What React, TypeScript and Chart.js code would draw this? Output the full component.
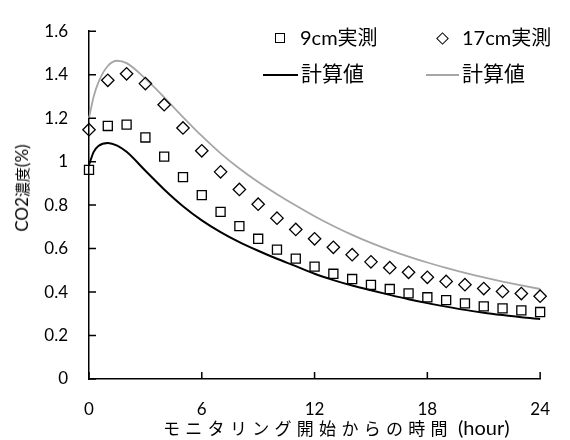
import React, { useEffect, useRef } from "react";
import { Chart, registerables } from "chart.js";

Chart.register(...registerables);

// ---- data ----
const measuredHours = [0, 1, 2, 3, 4, 5, 6, 7, 8, 9, 10, 11, 12, 13, 14, 15, 16, 17, 18, 19, 20, 21, 22, 23, 24];
const measured9cm = [0.962, 1.164, 1.17, 1.111, 1.023, 0.929, 0.846, 0.769, 0.703, 0.645, 0.595, 0.554, 0.517, 0.484, 0.46, 0.433, 0.414, 0.394, 0.376, 0.363, 0.348, 0.334, 0.325, 0.316, 0.308];
const measured17cm = [1.147, 1.374, 1.404, 1.359, 1.262, 1.155, 1.05, 0.953, 0.872, 0.804, 0.74, 0.688, 0.645, 0.606, 0.572, 0.539, 0.512, 0.491, 0.468, 0.449, 0.434, 0.416, 0.403, 0.393, 0.381];

const calcHours = [0, 0.25, 0.5, 1, 1.5, 2, 3, 4, 5, 6, 7, 8, 9, 10, 11, 12, 13, 14, 15, 16, 17, 18, 19, 20, 21, 22, 23, 24];
const calc9cm = [0.985, 1.045, 1.072, 1.086, 1.074, 1.045, 0.958, 0.872, 0.795, 0.73, 0.676, 0.63, 0.59, 0.553, 0.519, 0.484, 0.455, 0.43, 0.408, 0.387, 0.367, 0.349, 0.333, 0.318, 0.305, 0.294, 0.284, 0.276];
const calc17cm = [1.2, 1.3, 1.365, 1.44, 1.464, 1.453, 1.382, 1.296, 1.205, 1.118, 1.038, 0.968, 0.906, 0.85, 0.798, 0.749, 0.704, 0.663, 0.626, 0.593, 0.563, 0.536, 0.511, 0.488, 0.467, 0.448, 0.431, 0.414];

const xTickValues = [0, 6, 12, 18, 24];
const yMin = 0;
const yMax = 1.6;
const yStep = 0.2;

const seriesLabels = ["9cm実測", "17cm実測", "計算値", "計算値"];
const xTitleJa = "モニタリング開始からの時間";
const xTitleUnit = " (hour)";
const yTitleLead = "CO2";
const yTitleJa = "濃度";
const yTitleUnit = "(%)";

const FONT = "Lato, 'Noto Sans CJK JP', sans-serif";
const JA_FONT = "'Noto Sans CJK JP', sans-serif";

const insideTicks = {
  id: "insideTicks",
  afterDatasetsDraw(chart: any) {
    const { ctx, chartArea, scales } = chart;
    ctx.save();
    ctx.strokeStyle = "#000";
    ctx.lineWidth = 1.5;
    ctx.beginPath();
    scales.y.ticks.forEach((t: any) => {
      const y = scales.y.getPixelForValue(t.value);
      ctx.moveTo(chartArea.left, y);
      ctx.lineTo(chartArea.left + 7, y);
    });
    scales.x.ticks.forEach((t: any) => {
      const x = scales.x.getPixelForValue(t.value);
      ctx.moveTo(x, chartArea.bottom);
      ctx.lineTo(x, chartArea.bottom - 7);
    });
    ctx.stroke();
    ctx.restore();
  },
};

export default function App() {
  const canvasRef = useRef<HTMLCanvasElement | null>(null);

  useEffect(() => {
    const canvas = canvasRef.current;
    if (!canvas) return;
    const chart = new Chart(canvas, {
      type: "line",
      data: {
        datasets: [
          {
            label: seriesLabels[0],
            data: measuredHours.map((h, i) => ({ x: h, y: measured9cm[i] })),
            showLine: false,
            pointStyle: "rect",
            pointRadius: 6.4,
            pointBorderWidth: 1.3,
            pointBorderColor: "#000",
            pointBackgroundColor: "rgba(0,0,0,0)",
            borderColor: "#000",
            backgroundColor: "rgba(0,0,0,0)",
            clip: false,
          },
          {
            label: seriesLabels[1],
            data: measuredHours.map((h, i) => ({ x: h, y: measured17cm[i] })),
            showLine: false,
            pointStyle: "rectRot",
            pointRadius: 6.2,
            pointBorderWidth: 1.3,
            pointBorderColor: "#000",
            pointBackgroundColor: "rgba(0,0,0,0)",
            borderColor: "#000",
            backgroundColor: "rgba(0,0,0,0)",
            clip: false,
          },
          {
            label: seriesLabels[2],
            data: calcHours.map((h, i) => ({ x: h, y: calc9cm[i] })),
            borderColor: "#000",
            borderWidth: 2,
            pointRadius: 0,
            cubicInterpolationMode: "monotone",
            fill: false,
            clip: false,
          },
          {
            label: seriesLabels[3],
            data: calcHours.map((h, i) => ({ x: h, y: calc17cm[i] })),
            borderColor: "#a6a6a6",
            borderWidth: 1.8,
            pointRadius: 0,
            cubicInterpolationMode: "monotone",
            fill: false,
            clip: false,
          },
        ],
      },
      options: {
        responsive: false,
        animation: false,
        events: [],
        layout: { padding: { left: 0, right: 13, top: 26, bottom: 0 } },
        plugins: {
          legend: { display: false },
          tooltip: { enabled: false },
          title: { display: false },
        },
        scales: {
          x: {
            type: "linear",
            min: 0,
            max: 24,
            afterFit: (s: any) => {
              s.height = 61;
            },
            afterBuildTicks: (s: any) => {
              s.ticks = xTickValues.map((v) => ({ value: v }));
            },
            grid: { display: true, drawOnChartArea: false, drawTicks: false },
            border: { display: true, color: "#000", width: 1.5 },
            ticks: {
              padding: 20,
              color: "#000",
              font: { family: FONT, size: 17 },
              maxRotation: 0,
              callback: (v: any) => String(v),
            },
          },
          y: {
            type: "linear",
            min: yMin,
            max: yMax,
            afterFit: (s: any) => {
              s.width = 89;
            },
            grid: { display: true, drawOnChartArea: false, drawTicks: false },
            border: { display: true, color: "#000", width: 1.5 },
            ticks: {
              stepSize: yStep,
              padding: 21,
              color: "#000",
              font: { family: FONT, size: 17 },
              callback: (v: any) => String(Number(Number(v).toFixed(1))),
            },
          },
        },
      },
      plugins: [insideTicks],
    } as any);
    return () => chart.destroy();
  }, []);

  const textBase: React.CSSProperties = {
    position: "absolute",
    whiteSpace: "nowrap",
    color: "#000",
    fontFamily: FONT,
    lineHeight: "20px",
  };

  return (
    <div style={{ position: "absolute", left: 0, top: 0, width: 570, height: 440, background: "#fff" }}>
      <canvas ref={canvasRef} width={570} height={440} style={{ position: "absolute", left: 0, top: 0 }} />

      {/* legend */}
      <div style={{ position: "absolute", left: 275, top: 33, width: 10, height: 10, boxSizing: "border-box", border: "1.3px solid #000" }} />
      <div style={{ ...textBase, left: 300, top: 27, fontSize: 20 }}>{seriesLabels[0]}</div>
      <div style={{ position: "absolute", left: 437.5, top: 33.5, width: 9, height: 9, boxSizing: "border-box", border: "1.3px solid #000", transform: "rotate(45deg)" }} />
      <div style={{ ...textBase, left: 462, top: 27, fontSize: 20 }}>{seriesLabels[1]}</div>
      <div style={{ position: "absolute", left: 263, top: 74, width: 35, height: 2, background: "#000" }} />
      <div style={{ ...textBase, left: 301, top: 63, fontSize: 21 }}>{seriesLabels[2]}</div>
      <div style={{ position: "absolute", left: 426, top: 74, width: 33, height: 2, background: "#a6a6a6" }} />
      <div style={{ ...textBase, left: 462, top: 63, fontSize: 21 }}>{seriesLabels[3]}</div>

      {/* x-axis title */}
      <div style={{ ...textBase, left: 163, top: 417 }}>
        <span style={{ fontFamily: JA_FONT, fontSize: 17, letterSpacing: "5.3px" }}>{xTitleJa}</span>
        <span style={{ fontFamily: FONT, fontSize: 20 }}>{xTitleUnit}</span>
      </div>

      {/* y-axis title */}
      <div
        style={{
          ...textBase,
          left: 22,
          top: 188,
          fontSize: 17,
          transform: "translate(-50%, -50%) rotate(-90deg)",
        }}
      >
        <span>{yTitleLead}</span>
        <span style={{ fontFamily: JA_FONT, fontSize: 15 }}>{yTitleJa}</span>
        <span>{yTitleUnit}</span>
      </div>
    </div>
  );
}
